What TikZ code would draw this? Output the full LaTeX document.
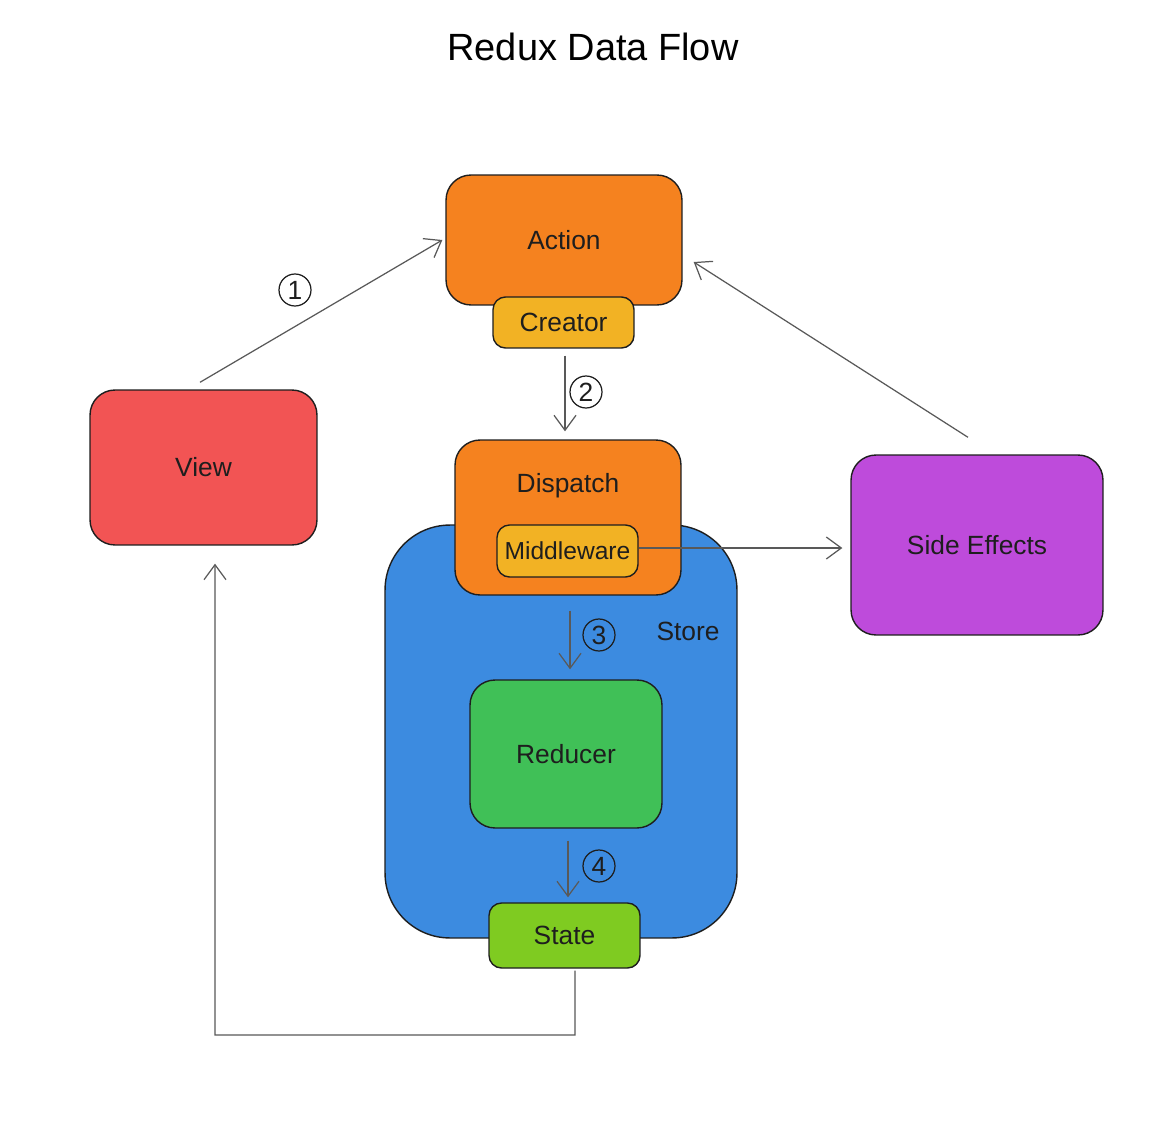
\documentclass[tikz,border=0pt]{standalone}
\usepackage{fontspec}
\setmainfont{Liberation Sans}
\usetikzlibrary{arrows.meta, positioning, calc}

\definecolor{actorange}{HTML}{F5821F}
\definecolor{creatoryellow}{HTML}{F2B224}
\definecolor{viewred}{HTML}{F25454}
\definecolor{storeblue}{HTML}{3C8BE0}
\definecolor{reducergreen}{HTML}{40C057}
\definecolor{statelime}{HTML}{7FCB21}
\definecolor{sidepurple}{HTML}{BE4BDB}
\definecolor{inkdark}{HTML}{1E1E1E}

\tikzset{
  box/.style={draw=inkdark, line width=0.8pt, rounded corners=0.5cm,
    text=inkdark, font=\fontsize{15}{18}\selectfont},
  flow/.style={draw=black!65, line width=0.7pt,
    -{Straight Barb[length=3mm, width=4.4mm]}},
  stepnum/.style={circle, draw=inkdark, line width=0.7pt, minimum size=0.64cm,
    inner sep=0pt, text=inkdark, font=\fontsize{15}{17}\selectfont}
}

\begin{document}
\begin{tikzpicture}[x=0.02cm, y=-0.02cm]
  \useasboundingbox[fill=white] (0,0) rectangle (1159,1135);
  % Title
  \node[font=\fontsize{21.6}{26}\selectfont] (title) at (593,47) {Redux Data Flow};
  % Store and its parts
  \node[box, fill=storeblue, rounded corners=1.3cm, minimum width=7.04cm, minimum height=8.26cm] (store) at (561,731.5) {};
  \node[box, draw=none] (storetxt) at (688,631) {Store};
  \node[box, fill=actorange, minimum width=4.52cm, minimum height=3.1cm] (dispatch) at (568,517.5) {};
  \node[box, draw=none] (dispatchtxt) at (568,486) {Dispatch};
  \node[box, fill=creatoryellow, rounded corners=0.25cm, inner xsep=1pt, minimum width=2.82cm, minimum height=1.04cm, font=\fontsize{14}{17}\selectfont] (middleware) at (567.5,551) {Middleware};
  \node[box, fill=reducergreen, minimum width=3.84cm, minimum height=2.96cm] (reducer) at (566,754) {Reducer};
  \node[box, fill=statelime, rounded corners=0.25cm, minimum width=3.02cm, minimum height=1.3cm] (state) at (564.5,935.5) {State};
  % Action, View, Side Effects
  \node[box, fill=actorange, minimum width=4.72cm, minimum height=2.6cm] (action) at (564,240) {Action};
  \node[box, fill=creatoryellow, rounded corners=0.25cm, minimum width=2.82cm, minimum height=1.02cm] (creator) at (563.5,322.5) {Creator};
  \node[box, fill=viewred, minimum width=4.54cm, minimum height=3.1cm] (view) at (203.5,467.5) {View};
  \node[box, fill=sidepurple, minimum width=5.04cm, minimum height=3.6cm] (side) at (977,545) {Side Effects};
  % Connectors
  \coordinate (loopcorner) at (215,1035);
  \draw[flow] ([xshift=-0.07cm, yshift=0.14cm]view.north) -- ([xshift=-0.06cm]action.west);
  \draw[flow] ([xshift=0.03cm, yshift=-0.14cm]creator.south) -- ([xshift=0.03cm, yshift=0.16cm]creator.south |- dispatch.north);
  \draw[flow] ([xshift=0.04cm, yshift=-0.3cm]dispatch.south) -- ([xshift=0.04cm, yshift=0.2cm]dispatch.south |- reducer.north);
  \draw[flow] ([xshift=0.04cm, yshift=-0.24cm]reducer.south) -- ([xshift=0.04cm, yshift=0.1cm]reducer.south |- state.north);
  \draw[flow] ([yshift=0.06cm]middleware.east) -- ([xshift=-0.16cm, yshift=0.06cm]middleware.east -| side.west);
  \draw[flow] ([xshift=-0.18cm, yshift=0.34cm]side.north) -- ([xshift=0.22cm, yshift=-0.44cm]action.east);
  \draw[flow] ([xshift=0.21cm, yshift=-0.04cm]state.south) |- (loopcorner) -- ([xshift=0.23cm, yshift=-0.36cm]view.south);
  % Step numbers
  \foreach \pos/\num in {{295,290}/1, {586,392}/2, {599,635}/3, {599,866}/4}
    \node[stepnum] (num\num) at (\pos) {\num};
\end{tikzpicture}
\end{document}
